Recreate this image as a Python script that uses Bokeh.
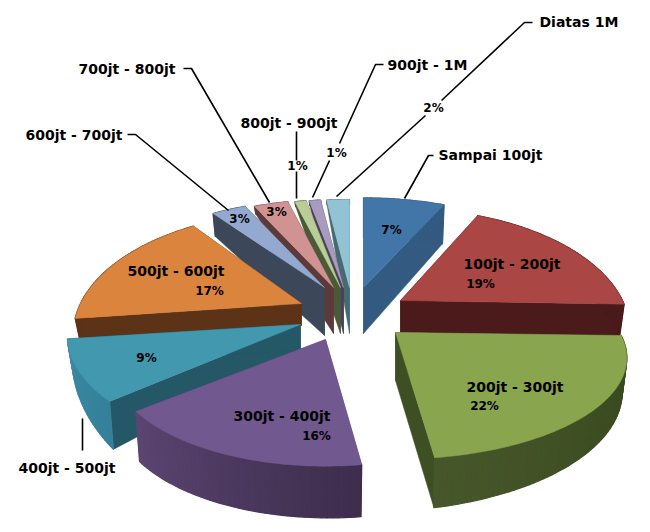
import math
from bokeh.plotting import figure
from bokeh.models import Range1d
from bokeh.core.properties import value
from bokeh.embed import file_html
from bokeh.resources import INLINE

categories = ["Sampai 100jt", "100jt - 200jt", "200jt - 300jt", "300jt - 400jt", "400jt - 500jt",
              "500jt - 600jt", "600jt - 700jt", "700jt - 800jt", "800jt - 900jt", "900jt - 1M", "Diatas 1M"]
percents = [7, 19, 22, 16, 9, 17, 3, 3, 1, 1, 2]
shares = [7, 18.5, 22.4, 16.1, 9, 17, 3, 3, 1, 1, 2]

# layout of each exploded slice
apex_x = [363, 400, 395, 325, 300, 301, 324, 333, 340, 343, 349]
apex_y = [287, 300, 332, 339, 324, 303, 287, 287, 287, 287, 287]
rad_x = [232, 222, 224, 207, 232, 221, 228, 228, 228, 228, 228]
rad_y = [112, 115, 95, 95, 113, 115, 110, 110, 110, 110, 110]
persp = [.25, .25, .25, .25, .10, .25, .25, .25, .25, .25, .25]
d_apex = [46, 32, 48, 50, 26, 22, 48, 46, 46, 46, 46]
d_start = [40, 32, 31, 52, 48, 21, 23, 8, 5, 5, 5]
d_end = [39, 32, 50, 50, 23, 21, 8, 5, 5, 5, 5]
top_col = ["#4376a8", "#aa4644", "#89a54e", "#71588f", "#4198af", "#db843d",
           "#93a9cf", "#d19392", "#b9cd96", "#a99bbd", "#92c3d5"]
wall_a = ["#335a80", "#4a1b1a", "#36451c", "#3e2d4d", "#35809a", "#5c3317",
          "#3c4759", "#5c3a3a", "#4a5a38", "#4a3f5c", "#456a70"]
wall_b = ["#335a80", "#4a1b1a", "#46572a", "#5c4673", "#3b8aa5", "#5c3317",
          "#3c4759", "#5c3a3a", "#4a5a38", "#4a3f5c", "#456a70"]
side_col = ["#335a80", "#4a1b1a", "#3f4f24", "#5c4673", "#245866", "#5c3317",
            "#3c4759", "#5c3a3a", "#4a5a38", "#4a3f5c", "#456a70"]
draw_order = [10, 9, 8, 7, 6, 0, 5, 4, 3, 1, 2]

label_names = categories
label_left = [438, 463, 466, 233, 18, 127, 25, 78, 240, 387, 539]
label_cy = [154, 263, 386, 415, 467, 270, 134, 68, 122, 64, 21]
pct_cx = [391, 480, 484, 316, 146, 209, 239, 276, 297, 336, 433]
pct_cy = [229, 283, 405, 435, 357, 290, 218, 211, 165, 152, 107]

leaders = [
    ([433, 428, 404], [155, 155, 198]),
    ([82, 82], [418, 450]),
    ([127, 135, 228], [134, 134, 210]),
    ([183, 191, 269], [68, 68, 202]),
    ([296, 296], [131, 160]),
    ([296, 296], [171, 198]),
    ([383, 375, 339], [64, 64, 143]),
    ([329, 312], [160, 197]),
    ([532, 524, 441], [22, 22, 100]),
    ([425, 336], [115, 196]),
]


def rim(i, a):
    Y = math.cos(a)
    s = 1 / (1 + persp[i] * Y)
    return apex_x[i] + rad_x[i] * math.sin(a) * s, apex_y[i] - rad_y[i] * Y * s


def lower(i, x, y, d):
    return apex_x[i] + (x - apex_x[i]) * 0.98, y + d


def mix(c1, c2, t):
    a = [int(c1[j:j + 2], 16) for j in (1, 3, 5)]
    b = [int(c2[j:j + 2], 16) for j in (1, 3, 5)]
    return "#%02x%02x%02x" % tuple(round(a[j] + (b[j] - a[j]) * t) for j in range(3))


p = figure(width=634, height=520, output_backend="svg", toolbar_location=None,
           x_range=Range1d(0, 634), y_range=Range1d(520, 0), min_border=0)
p.axis.visible = False
p.grid.visible = False
p.outline_line_color = None

edges = [0]
for v in shares:
    edges.append(edges[-1] + v)

for i in draw_order:
    a0 = edges[i] / 100 * 2 * math.pi
    a1 = edges[i + 1] / 100 * 2 * math.pi
    n = max(4, percents[i] * 3)
    ang = [a0 + (a1 - a0) * k / n for k in range(n + 1)]
    pts = [rim(i, a) for a in ang]
    ax, ay = apex_x[i], apex_y[i]
    # radial walls
    for idx, dd in ((0, d_start[i]), (n, d_end[i])):
        x, y = pts[idx]
        bx, by = lower(i, x, y, dd)
        p.patch([ax, x, bx, ax], [ay, y, by, ay + d_apex[i]],
                fill_color=side_col[i], line_color=side_col[i], line_width=0.5)
    # outer wall in strips, for the gradient
    for k in range(n):
        t = k / n
        d1 = d_start[i] + (d_end[i] - d_start[i]) * t
        d2 = d_start[i] + (d_end[i] - d_start[i]) * (k + 1) / n
        (x1, y1), (x2, y2) = pts[k], pts[k + 1]
        bx1, by1 = lower(i, x1, y1, d1)
        bx2, by2 = lower(i, x2, y2, d2)
        c = mix(wall_a[i], wall_b[i], t)
        p.patch([x1, x2, bx2, bx1], [y1, y2, by2, by1], fill_color=c, line_color=c, line_width=1.2)
    # top face
    p.patch([ax] + [q[0] for q in pts], [ay] + [q[1] for q in pts],
            fill_color=top_col[i], line_color=top_col[i], line_width=0.5)

for xs, ys in leaders:
    p.line(xs, ys, line_color="#000000", line_width=1.6)

for i, name in enumerate(label_names):
    p.text([label_left[i]], [label_cy[i]], text=[name], text_font=value("DejaVu Sans"),
           text_font_style="bold", text_font_size="14px", text_color="#000000",
           text_align="left", text_baseline="middle")
    p.text([pct_cx[i]], [pct_cy[i]], text=["%d%%" % percents[i]], text_font=value("DejaVu Sans"),
           text_font_style="bold", text_font_size="12px", text_color="#000000",
           text_align="center", text_baseline="middle")

open("out.html", "w").write(file_html(p, INLINE))
